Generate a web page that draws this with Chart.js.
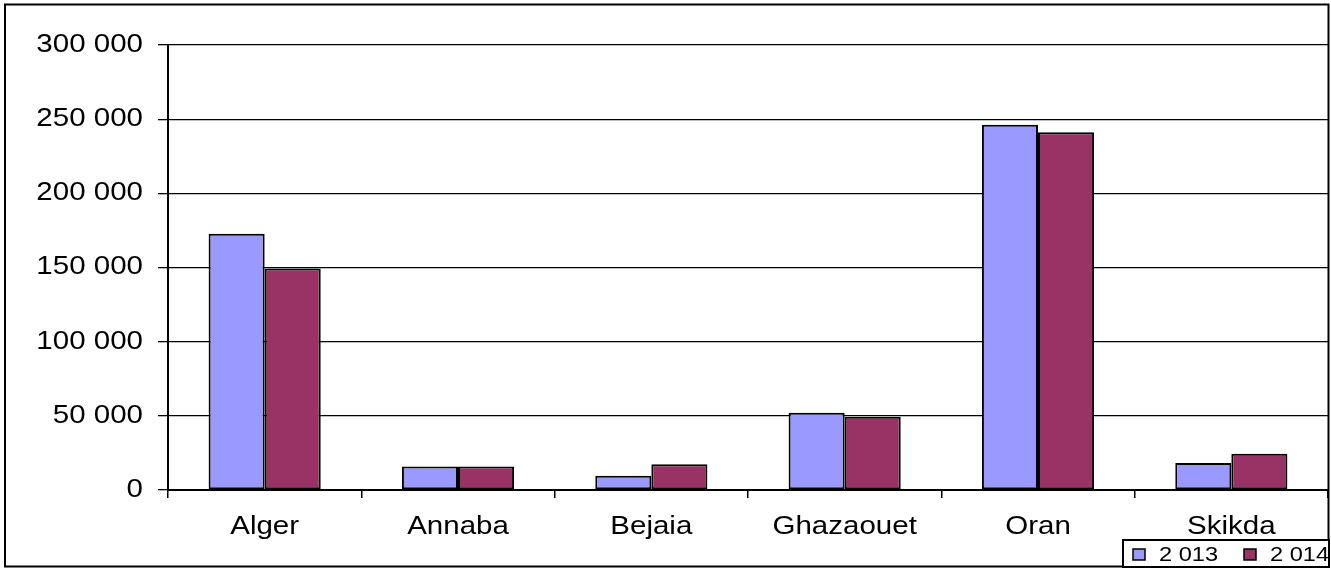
<!DOCTYPE html>
<html>
<head>
<meta charset="utf-8">
<script src="https://cdn.jsdelivr.net/npm/chart.js@4/dist/chart.umd.min.js"></script>
<style>
  html, body { margin: 0; padding: 0; background: #fff; }
  #wrap { width: 1331px; height: 570px; position: relative; }
</style>
</head>
<body>
<div id="wrap"><canvas id="c" width="1331" height="570"></canvas></div>
<script>
// Ports and yearly tonnage
const categories = ['Alger', 'Annaba', 'Bejaia', 'Ghazaouet', 'Oran', 'Skikda'];
const seriesLabels = ['2 013', '2 014'];
const values2013 = [172800, 15900, 9600, 52000, 246300, 18200];
const values2014 = [149300, 15900, 17300, 49300, 241200, 24500];
const yTickLabels = ['0', '50 000', '100 000', '150 000', '200 000', '250 000', '300 000'];

const colors = ['#9999FF', '#993366'];
const FONT = '"Liberation Sans", Arial, sans-serif';
const TEXT_STRETCH = 1.18;

// draw every canvas label with horizontally widened glyphs
const stretchTextPlugin = {
  id: 'stretchText',
  beforeInit(chart) {
    const ctx = chart.ctx;
    const fill = ctx.fillText.bind(ctx);
    const measure = ctx.measureText.bind(ctx);
    ctx.fillText = function (text, x, y, maxWidth) {
      ctx.save();
      ctx.translate(x, y);
      ctx.scale(TEXT_STRETCH, 1);
      if (maxWidth === undefined) fill(text, 0, 0);
      else fill(text, 0, 0, maxWidth / TEXT_STRETCH);
      ctx.restore();
    };
    ctx.measureText = function (text) {
      const m = measure(text);
      return {
        width: m.width * TEXT_STRETCH,
        actualBoundingBoxAscent: m.actualBoundingBoxAscent,
        actualBoundingBoxDescent: m.actualBoundingBoxDescent,
        actualBoundingBoxLeft: m.actualBoundingBoxLeft * TEXT_STRETCH,
        actualBoundingBoxRight: m.actualBoundingBoxRight * TEXT_STRETCH
      };
    };
  }
};

// outer frame and boxed legend
const framePlugin = {
  id: 'frame',
  afterDraw(chart) {
    const ctx = chart.ctx;
    ctx.save();
    ctx.strokeStyle = '#000';
    ctx.lineWidth = 2;
    ctx.strokeRect(5, 4.5, 1323.5, 562);

    // legend box
    const bx = 1123, by = 540, bw = 206, bh = 27;
    ctx.fillStyle = '#fff';
    ctx.fillRect(bx, by, bw, bh);
    ctx.strokeRect(bx, by, bw, bh);

    ctx.font = '20px ' + FONT;
    ctx.textBaseline = 'middle';
    ctx.textAlign = 'left';
    const itemX = [1133, 1244];
    chart.data.datasets.forEach((ds, i) => {
      const x = itemX[i];
      ctx.fillStyle = ds.backgroundColor;
      ctx.fillRect(x, 549, 12, 11);
      ctx.lineWidth = 1.5;
      ctx.strokeStyle = '#000';
      ctx.strokeRect(x, 549, 12, 11);
      ctx.fillStyle = '#000';
      ctx.fillText(ds.label, x + 26, 555);
    });
    ctx.restore();
  }
};

new Chart(document.getElementById('c'), {
  type: 'bar',
  data: {
    labels: categories,
    datasets: [
      { label: seriesLabels[0], data: values2013, backgroundColor: colors[0],
        borderColor: '#000', borderWidth: 2, borderSkipped: false },
      { label: seriesLabels[1], data: values2014, backgroundColor: colors[1],
        borderColor: '#000', borderWidth: 2, borderSkipped: false }
    ]
  },
  options: {
    responsive: false,
    animation: false,
    devicePixelRatio: 1,
    layout: { padding: { left: 5, right: 3, top: 45, bottom: 0 } },
    datasets: { bar: { categoryPercentage: 0.58, barPercentage: 1.0 } },
    plugins: {
      legend: { display: false },
      tooltip: { enabled: false }
    },
    scales: {
      x: {
        grid: { drawOnChartArea: false, drawTicks: true, tickLength: 8, color: '#000', lineWidth: 1.5, offset: true },
        border: { display: true, color: '#000', width: 2 },
        ticks: { color: '#000', font: { family: FONT, size: 25 }, padding: 14, autoSkip: false, maxRotation: 0 },
        afterFit(scale) { scale.height = 80; }
      },
      y: {
        min: 0, max: 300000,
        grid: { color: '#000', lineWidth: 1.3, tickLength: 10, drawTicks: true },
        border: { display: true, color: '#000', width: 2 },
        ticks: {
          stepSize: 50000, color: '#000', padding: 15,
          font: { family: FONT, size: 25 },
          callback: (v, i) => yTickLabels[i]
        },
        afterFit(scale) { scale.width = 163; }
      }
    }
  },
  plugins: [stretchTextPlugin, framePlugin]
});
</script>
</body>
</html>
